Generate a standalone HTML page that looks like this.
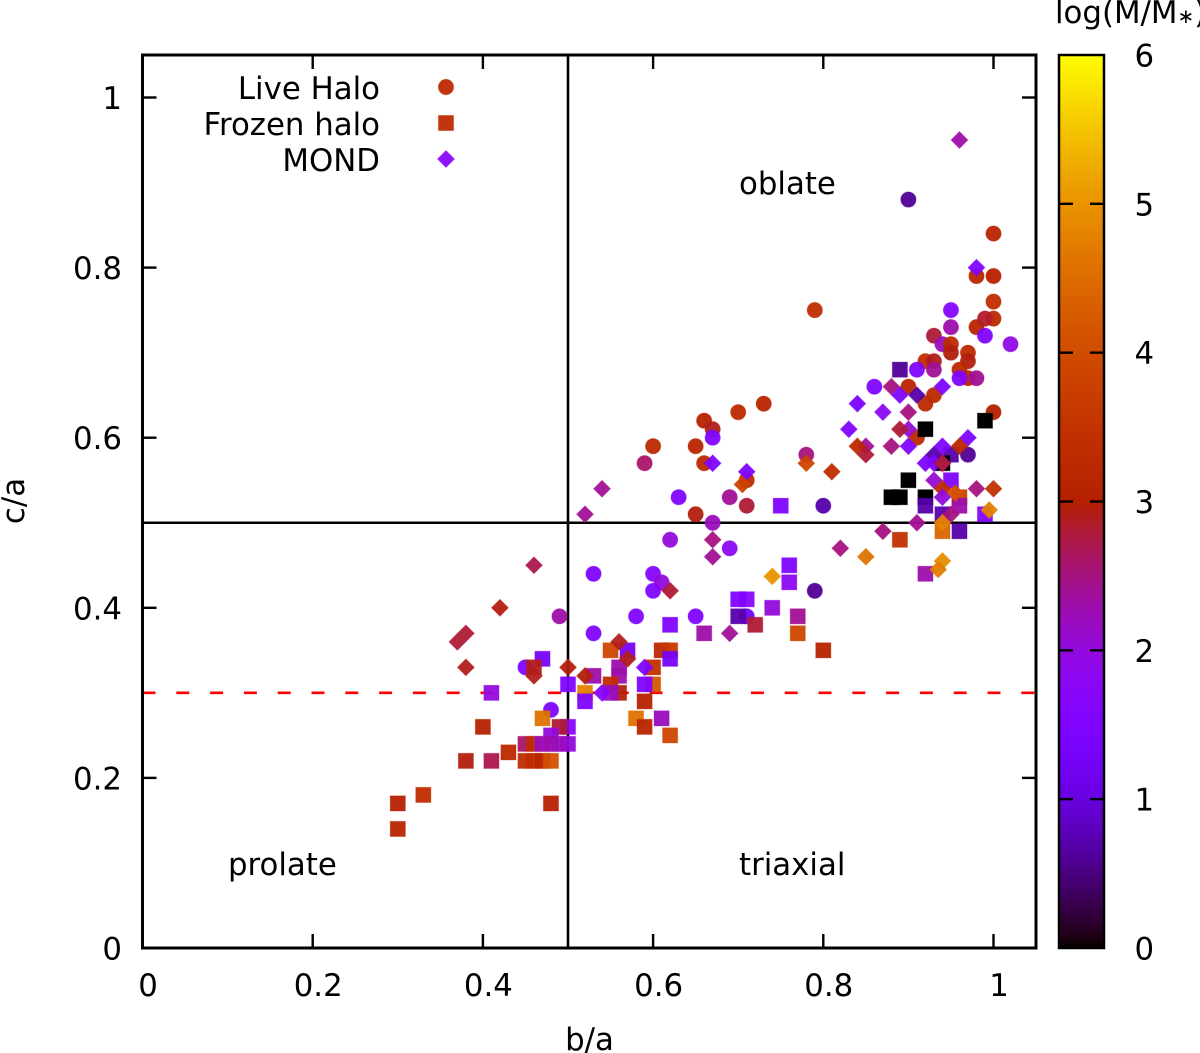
<!DOCTYPE html>
<html lang="en">
<head>
<meta charset="utf-8">
<title>Axis ratios c/a vs b/a</title>
<style>
html,body{margin:0;padding:0;background:#fff;}
svg{display:block;}
text{font-family:"DejaVu Sans","Liberation Sans",sans-serif;font-size:30.8px;fill:#000;}
</style>
</head>
<body>
<svg id="chart" xmlns="http://www.w3.org/2000/svg" width="1200" height="1053" viewBox="0 0 1200 1053">
  <defs>
    <linearGradient id="cbgrad" x1="0" y1="1" x2="0" y2="0"></linearGradient>
  </defs>
  <rect x="0" y="0" width="1200" height="1053" fill="#fff"/>
  <g id="refs"></g>
  <g id="ticks"></g>
  <g id="marks"></g>
  <rect x="142.5" y="55" width="893.5" height="893" fill="none" stroke="#000" stroke-width="3"/>
  <g id="ticklabels"></g>
  <text x="589.5" y="1050" text-anchor="middle">b/a</text>
  <text x="0" y="0" text-anchor="middle" transform="translate(24,501) rotate(-90)">c/a</text>
  <text x="739" y="194">oblate</text>
  <text x="739" y="875">triaxial</text>
  <text x="228" y="875">prolate</text>
  <g id="legend">
    <text x="380" y="99" text-anchor="end">Live Halo</text>
    <text x="380" y="135" text-anchor="end">Frozen halo</text>
    <text x="380" y="171" text-anchor="end">MOND</text>
  </g>
  <g id="colorbar">
    <rect x="1059" y="55" width="45" height="893" fill="url(#cbgrad)" stroke="#000" stroke-width="2.5"/>
  </g>
  <text x="1055" y="23">log(M/M<tspan font-size="20" style="font-size:20px">∗</tspan>)</text>
</svg>
<script>
/* Axis tick values */
var xTicks = [0, 0.2, 0.4, 0.6, 0.8, 1];
var yTicks = [0, 0.2, 0.4, 0.6, 0.8, 1];
var xTickLabels = ["0", "0.2", "0.4", "0.6", "0.8", "1"];
var yTickLabels = ["0", "0.2", "0.4", "0.6", "0.8", "1"];
var cbTicks = [0, 1, 2, 3, 4, 5, 6];
var cbTickLabels = ["0", "1", "2", "3", "4", "5", "6"];

/* Reference line values */
var splitX = 0.5;
var splitY = 0.5;
var thresholdY = 0.3;

/* Legend sample colour values */
var legendLiveZ = 3.3;
var legendFrozenZ = 3.3;
var legendMondZ = 1.7;

/* Live halo series */
var liveX = [0.90,1.00,0.98,1.00,1.00,1.00,0.98,0.99,0.79,0.95,0.95,1.02,0.99,0.93,0.94,0.95,0.95,0.97,0.97,0.92,0.93,0.93,0.91,0.96,0.97,0.98,0.96,0.86,0.90,0.93,0.92,0.91,1.00,0.97,0.78,0.80,0.73,0.70,0.66,0.67,0.67,0.60,0.65,0.59,0.66,0.71,0.69,0.63,0.71,0.65,0.67,0.62,0.69,0.53,0.60,0.61,0.60,0.79,0.58,0.65,0.53,0.49,0.71,0.45,0.48];
var liveY = [0.88,0.84,0.79,0.79,0.76,0.74,0.73,0.74,0.75,0.75,0.73,0.71,0.72,0.72,0.71,0.71,0.70,0.70,0.69,0.69,0.69,0.68,0.68,0.68,0.67,0.67,0.67,0.66,0.66,0.65,0.64,0.60,0.63,0.58,0.58,0.52,0.64,0.63,0.62,0.61,0.60,0.59,0.59,0.57,0.57,0.55,0.53,0.53,0.52,0.51,0.50,0.48,0.47,0.44,0.44,0.43,0.42,0.42,0.39,0.39,0.37,0.39,0.39,0.33,0.28];
var liveZ = [0.6,3.15,3.15,3.05,3.4,3.25,3.15,2.85,3.35,1.6,2.3,1.9,1.5,2.8,2.2,3.25,2.95,3.25,2.95,3.35,2.9,2.4,1.5,3.25,3.15,2.4,1.5,1.5,3.15,3.25,3.25,3.25,3.0,0.6,2.5,0.7,3.15,3.25,3.05,2.9,1.5,3.25,3.15,2.6,3.25,3.25,2.4,1.5,2.8,2.95,2.2,2.0,1.8,1.5,1.6,2.0,1.5,0.6,1.5,1.5,1.5,2.3,1.2,1.5,1.5];

/* Frozen halo series */
var frozenX = [0.89,0.92,0.99,0.90,0.88,0.89,0.92,0.92,0.94,0.95,0.96,0.96,0.99,0.96,0.94,0.89,0.95,0.94,0.92,0.75,0.76,0.76,0.71,0.70,0.74,0.77,0.77,0.80,0.72,0.70,0.62,0.66,0.61,0.62,0.62,0.60,0.60,0.59,0.59,0.58,0.59,0.61,0.62,0.55,0.57,0.56,0.56,0.55,0.56,0.55,0.53,0.52,0.52,0.50,0.50,0.50,0.47,0.46,0.41,0.47,0.40,0.49,0.48,0.45,0.46,0.47,0.48,0.49,0.43,0.38,0.41,0.45,0.46,0.47,0.48,0.33,0.30,0.48,0.30];
var frozenY = [0.68,0.61,0.62,0.55,0.53,0.53,0.53,0.52,0.51,0.55,0.53,0.52,0.51,0.49,0.49,0.48,0.58,0.57,0.44,0.52,0.45,0.43,0.41,0.41,0.40,0.39,0.37,0.35,0.38,0.39,0.38,0.37,0.35,0.35,0.34,0.33,0.31,0.31,0.29,0.27,0.26,0.27,0.25,0.35,0.35,0.33,0.32,0.31,0.30,0.30,0.32,0.30,0.29,0.31,0.26,0.24,0.34,0.33,0.30,0.27,0.26,0.26,0.25,0.24,0.24,0.24,0.24,0.24,0.23,0.22,0.22,0.22,0.22,0.22,0.22,0.18,0.17,0.17,0.14];
var frozenZ = [0.6,0,0,0,0,0,0,0.7,0.7,1.5,3.8,2.3,1.5,0.7,4.4,3.45,0.7,0,2.3,1.5,1.5,1.8,1.7,1.5,2.0,2.4,3.9,3.1,2.8,0.7,1.5,2.3,3.25,3.6,1.3,3.45,4.2,1.5,3.1,4.6,3.15,2.2,3.9,3.9,1.3,2.3,2.3,3.35,2.95,2.2,2.3,4.8,1.5,1.5,1.7,2.0,1.3,2.9,2.0,4.6,3.1,2.8,2.0,2.6,3.35,2.2,2.3,2.2,3.25,2.95,2.7,3.35,3.35,3.15,4.1,3.35,3.05,3.05,3.15];

/* MOND series */
var mondX = [0.96,0.98,0.88,0.94,0.91,0.89,0.90,0.84,0.87,0.83,0.90,0.89,0.85,0.84,0.85,0.88,0.90,0.97,0.94,0.96,0.93,0.92,0.93,0.94,0.94,0.93,0.94,0.955,0.98,1.00,0.94,0.95,0.995,0.91,0.94,0.87,0.82,0.81,0.78,0.85,0.94,0.935,0.74,0.54,0.52,0.67,0.71,0.705,0.67,0.67,0.62,0.69,0.56,0.57,0.59,0.50,0.52,0.54,0.38,0.37,0.38,0.46,0.46,0.42];
var mondY = [0.95,0.80,0.66,0.66,0.65,0.65,0.63,0.64,0.63,0.61,0.61,0.61,0.59,0.59,0.58,0.59,0.59,0.60,0.59,0.59,0.58,0.57,0.57,0.57,0.57,0.55,0.54,0.535,0.54,0.54,0.53,0.51,0.515,0.50,0.50,0.49,0.47,0.56,0.57,0.46,0.455,0.445,0.437,0.54,0.51,0.57,0.56,0.545,0.48,0.46,0.42,0.37,0.36,0.34,0.33,0.33,0.32,0.30,0.37,0.36,0.33,0.32,0.45,0.40];
var mondZ = [2.3,1.5,2.5,1.5,0.7,1.5,2.5,1.4,1.8,1.5,2.1,2.8,2.4,3.25,2.8,2.5,1.5,1.5,1.5,3.15,0.7,1.5,1.5,1.2,2.8,2.1,3.25,4.1,2.5,3.45,2.0,2.5,4.8,2.4,4.8,2.5,2.5,3.35,3.9,4.6,4.9,4.7,5.0,2.4,2.4,1.5,1.5,3.8,2.5,2.4,2.8,2.4,2.9,2.9,1.5,2.95,2.95,1.6,2.8,2.8,2.9,2.9,2.7,2.95];

var SVGNS = "http://www.w3.org/2000/svg";
var plotLeft = 142.5, plotBottom = 948, plotRight = 1036, plotTop = 55;
var xScale = 851, yScale = 850.5;
var cbLeft = 1059, cbRight = 1104, cbMax = 6;

function xPos(v) { return plotLeft + v * xScale; }
function yPos(v) { return plotBottom - v * yScale; }
function cbPos(v) { return plotBottom - (v / cbMax) * (plotBottom - plotTop); }

/* gnuplot default pm3d palette: rgbformulae 7,5,15 */
function paletteColor(z) {
  var g = Math.max(0, Math.min(1, z / cbMax));
  var r = Math.sqrt(g);
  var gr = g * g * g;
  var b = Math.max(0, Math.sin(2 * Math.PI * g));
  return "rgb(" + Math.round(r * 255) + "," + Math.round(gr * 255) + "," + Math.round(b * 255) + ")";
}

function make(tag, attrs, parent) {
  var el = document.createElementNS(SVGNS, tag);
  for (var k in attrs) { el.setAttribute(k, attrs[k]); }
  parent.appendChild(el);
  return el;
}

function drawCircle(parent, cx, cy, color, alpha) {
  return make("circle", { cx: cx, cy: cy, r: 7.7, fill: color, "fill-opacity": alpha, stroke: color, "stroke-opacity": 0.3, "stroke-width": 1 }, parent);
}
function drawSquare(parent, cx, cy, color, alpha) {
  return make("rect", { x: cx - 7.6, y: cy - 7.6, width: 15.2, height: 15.2, fill: color, "fill-opacity": alpha, stroke: color, "stroke-opacity": 0.3, "stroke-width": 1 }, parent);
}
function drawDiamond(parent, cx, cy, color, alpha) {
  var d = 8.5;
  var pts = cx + "," + (cy - d) + " " + (cx + d) + "," + cy + " " + cx + "," + (cy + d) + " " + (cx - d) + "," + cy;
  return make("polygon", { points: pts, fill: color, "fill-opacity": alpha, stroke: color, "stroke-opacity": 0.3, "stroke-width": 1 }, parent);
}
function alphaFor(z) { return z < 0.1 ? 1 : 0.95; }

/* reference lines */
var refs = document.getElementById("refs");
var refV = make("line", { x1: xPos(splitX), x2: xPos(splitX), y1: plotTop, y2: plotBottom, stroke: "#000", "stroke-width": 2.6 }, refs);


var refH = make("line", { x1: plotLeft, x2: plotRight, y1: yPos(splitY), y2: yPos(splitY), stroke: "#000", "stroke-width": 2.6 }, refs);


var refT = make("line", { x1: plotLeft, x2: plotRight, y1: yPos(thresholdY), y2: yPos(thresholdY), stroke: "#f00", "stroke-width": 2.6, "stroke-dasharray": "13 20.8" }, refs);



/* ticks */
var ticksG = document.getElementById("ticks");
var tickLen = 14;
xTicks.forEach(function (v) {
  var x = xPos(v);
  var t1 = make("line", { x1: x, x2: x, y1: plotBottom, y2: plotBottom - tickLen, stroke: "#000", "stroke-width": 2.4 }, ticksG);
  
  
  var t2 = make("line", { x1: x, x2: x, y1: plotTop, y2: plotTop + tickLen, stroke: "#000", "stroke-width": 2.4 }, ticksG);
  
  
});
yTicks.forEach(function (v) {
  var y = yPos(v);
  var t1 = make("line", { x1: plotLeft, x2: plotLeft + tickLen, y1: y, y2: y, stroke: "#000", "stroke-width": 2.4 }, ticksG);
  
  
  var t2 = make("line", { x1: plotRight, x2: plotRight - tickLen, y1: y, y2: y, stroke: "#000", "stroke-width": 2.4 }, ticksG);
  
  
});

/* tick labels */
var labelsG = document.getElementById("ticklabels");
xTicks.forEach(function (v, i) {
  var t = make("text", { x: xPos(v) + 5.5, y: 996, "text-anchor": "middle" }, labelsG);
  t.textContent = xTickLabels[i];
  
  
});
yTicks.forEach(function (v, i) {
  var t = make("text", { x: 122, y: yPos(v) + 11.5, "text-anchor": "end" }, labelsG);
  t.textContent = yTickLabels[i];
  
  
});

/* colour bar */
var grad = document.getElementById("cbgrad");
for (var s = 0; s <= 128; s++) {
  make("stop", { offset: (s / 128), "stop-color": paletteColor(s / 128 * cbMax) }, grad);
}
var cbG = document.getElementById("colorbar");
cbTicks.forEach(function (v, i) {
  var y = cbPos(v);
  if (v > 0 && v < cbMax) {
    var t1 = make("line", { x1: cbLeft, x2: cbLeft + tickLen, y1: y, y2: y, stroke: "#000", "stroke-width": 2.4 }, cbG);
    
    
    var t2 = make("line", { x1: cbRight, x2: cbRight - tickLen, y1: y, y2: y, stroke: "#000", "stroke-width": 2.4 }, cbG);
    
    
  }
  var lab = make("text", { x: 1134.5, y: y + 11.5 }, cbG);
  lab.textContent = cbTickLabels[i];
  
  
});

/* data points */
var marks = document.getElementById("marks");
liveX.forEach(function (v, i) {
  var el = drawCircle(marks, xPos(v), yPos(liveY[i]), paletteColor(liveZ[i]), alphaFor(liveZ[i]));
  
  
});
frozenX.forEach(function (v, i) {
  var el = drawSquare(marks, xPos(v), yPos(frozenY[i]), paletteColor(frozenZ[i]), alphaFor(frozenZ[i]));
  
  
});
mondX.forEach(function (v, i) {
  var el = drawDiamond(marks, xPos(v), yPos(mondY[i]), paletteColor(mondZ[i]), alphaFor(mondZ[i]));
  
  
});

/* legend samples */
var legendG = document.getElementById("legend");
var ls1 = drawCircle(legendG, 446, 87, paletteColor(legendLiveZ), 0.95);


var ls2 = drawSquare(legendG, 446, 123, paletteColor(legendFrozenZ), 0.95);


var ls3 = drawDiamond(legendG, 446, 159, paletteColor(legendMondZ), 0.95);


</script>
</body>
</html>
